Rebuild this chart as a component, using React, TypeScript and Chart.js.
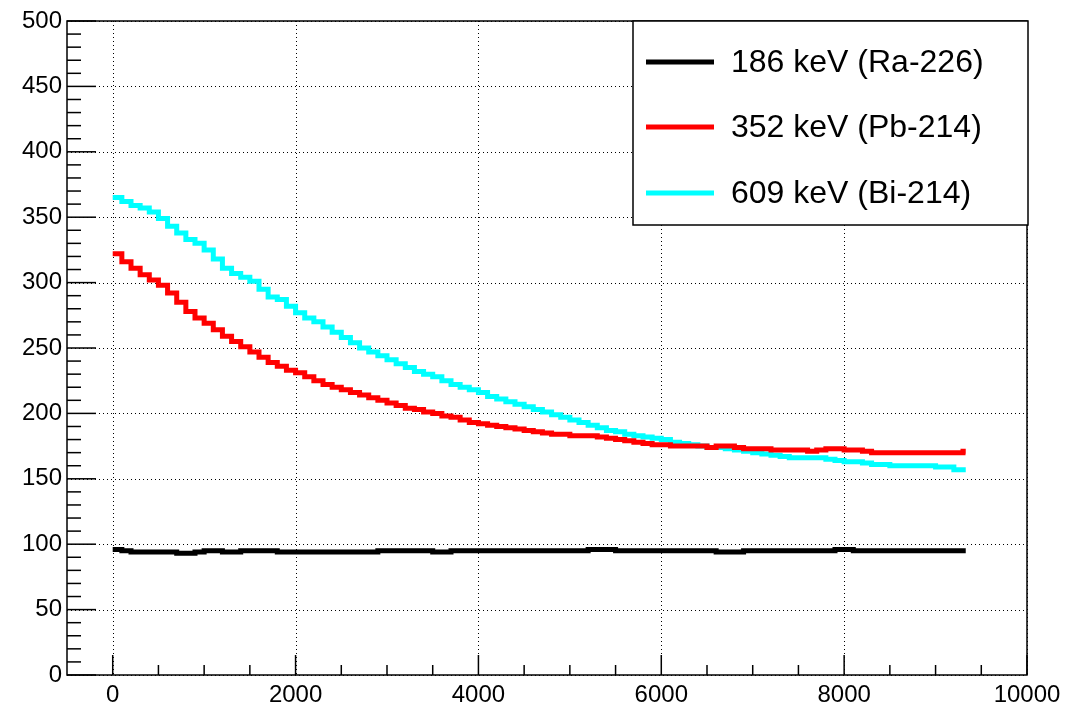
import React, { useEffect, useRef } from "react";
import { Chart, registerables } from "chart.js";

Chart.register(...registerables);

// Bin left edges (last entry closes the final bin)
const binEdges = [
  0, 100, 200, 300, 400, 500, 600, 700, 800, 900,
  1000, 1100, 1200, 1300, 1400, 1500, 1600, 1700, 1800, 1900,
  2000, 2100, 2200, 2300, 2400, 2500, 2600, 2700, 2800, 2900,
  3000, 3100, 3200, 3300, 3400, 3500, 3600, 3700, 3800, 3900,
  4000, 4100, 4200, 4300, 4400, 4500, 4600, 4700, 4800, 4900,
  5000, 5100, 5200, 5300, 5400, 5500, 5600, 5700, 5800, 5900,
  6000, 6100, 6200, 6300, 6400, 6500, 6600, 6700, 6800, 6900,
  7000, 7100, 7200, 7300, 7400, 7500, 7600, 7700, 7800, 7900,
  8000, 8100, 8200, 8300, 8400, 8500, 8600, 8700, 8800, 8900,
  9000, 9100, 9200, 9300, 9330,
];

const ra226 = [
  96, 95, 94, 94, 94, 94, 94, 93, 93, 94,
  95, 95, 94, 94, 95, 95, 95, 95, 94, 94,
  94, 94, 94, 94, 94, 94, 94, 94, 94, 95,
  95, 95, 95, 95, 95, 94, 94, 95, 95, 95,
  95, 95, 95, 95, 95, 95, 95, 95, 95, 95,
  95, 95, 96, 96, 96, 95, 95, 95, 95, 95,
  95, 95, 95, 95, 95, 95, 94, 94, 94, 95,
  95, 95, 95, 95, 95, 95, 95, 95, 95, 96,
  96, 95, 95, 95, 95, 95, 95, 95, 95, 95,
  95, 95, 95, 95, 95,
];

const pb214 = [
  322, 316, 311, 306, 302, 298, 292, 285, 278, 273,
  269, 264, 259, 255, 251, 247, 243, 239, 236, 233,
  231, 228, 225, 222, 220, 218, 216, 214, 212, 210,
  208, 206, 204, 203, 201, 200, 198, 197, 195, 193,
  192, 191, 190, 189, 188, 187, 186, 185, 184, 184,
  183, 183, 183, 182, 181, 180, 179, 178, 177, 176,
  176, 175, 175, 175, 175, 174, 175, 175, 174, 173,
  173, 173, 172, 172, 172, 172, 171, 172, 173, 173,
  172, 172, 171, 170, 170, 170, 170, 170, 170, 170,
  170, 170, 170, 171, 171,
];

const bi214 = [
  365, 362, 359, 357, 354, 349, 343, 338, 333, 330,
  325, 318, 311, 307, 304, 301, 295, 289, 287, 282,
  277, 273, 270, 266, 262, 258, 254, 250, 247, 244,
  241, 238, 235, 232, 230, 228, 225, 222, 220, 218,
  216, 213, 211, 209, 207, 205, 203, 201, 199, 197,
  195, 193, 191, 189, 187, 186, 184, 183, 182, 181,
  180, 178, 177, 176, 175, 174, 174, 173, 172, 171,
  170, 169, 168, 167, 166, 166, 166, 166, 165, 164,
  163, 163, 162, 161, 161, 160, 160, 160, 160, 160,
  159, 159, 157, 157, 157,
];

const seriesLabels = ["186 keV (Ra-226)", "352 keV (Pb-214)", "609 keV (Bi-214)"];
const seriesColors = ["#000000", "#ff0000", "#00ffff"];

const xMajorTicks = [0, 2000, 4000, 6000, 8000, 10000];
const xMinorTicks = [500, 1000, 1500, 2500, 3000, 3500, 4500, 5000, 5500, 6500, 7000, 7500, 8500, 9000, 9500];
const yMajorTicks = [0, 50, 100, 150, 200, 250, 300, 350, 400, 450, 500];
const yMinorTicks = [
  10, 20, 30, 40, 60, 70, 80, 90, 110, 120, 130, 140, 160, 170, 180, 190,
  210, 220, 230, 240, 260, 270, 280, 290, 310, 320, 330, 340, 360, 370, 380, 390,
  410, 420, 430, 440, 460, 470, 480, 490,
];

const FONT = "'Liberation Sans', Arial, Helvetica, sans-serif";

const rootStyle = {
  id: "rootStyle",
  beforeDatasetsDraw(chart: any) {
    const { ctx, chartArea, scales } = chart;
    const xs = scales.x;
    const ys = scales.y;
    ctx.save();
    ctx.strokeStyle = "#000";
    ctx.lineWidth = 1;
    ctx.setLineDash([1, 3]);
    for (const v of xMajorTicks) {
      const px = Math.round(xs.getPixelForValue(v)) + 0.5;
      ctx.beginPath();
      ctx.moveTo(px, chartArea.top);
      ctx.lineTo(px, chartArea.bottom);
      ctx.stroke();
    }
    for (const v of yMajorTicks) {
      const py = Math.round(ys.getPixelForValue(v)) + 0.5;
      ctx.beginPath();
      ctx.moveTo(chartArea.left, py);
      ctx.lineTo(chartArea.right, py);
      ctx.stroke();
    }
    ctx.restore();
  },
  afterDatasetsDraw(chart: any) {
    const { ctx, chartArea, scales } = chart;
    const xs = scales.x;
    const ys = scales.y;
    ctx.save();
    ctx.strokeStyle = "#000";
    ctx.lineWidth = 1.5;
    ctx.setLineDash([]);
    ctx.strokeRect(chartArea.left, chartArea.top, chartArea.right - chartArea.left, chartArea.bottom - chartArea.top);
    const tick = (x1: number, y1: number, x2: number, y2: number) => {
      ctx.beginPath();
      ctx.moveTo(x1, y1);
      ctx.lineTo(x2, y2);
      ctx.stroke();
    };
    for (const v of xMajorTicks) {
      const px = xs.getPixelForValue(v);
      tick(px, chartArea.bottom, px, chartArea.bottom - 20);
    }
    for (const v of xMinorTicks) {
      const px = xs.getPixelForValue(v);
      tick(px, chartArea.bottom, px, chartArea.bottom - 10);
    }
    for (const v of yMajorTicks) {
      const py = ys.getPixelForValue(v);
      tick(chartArea.left, py, chartArea.left + 29, py);
    }
    for (const v of yMinorTicks) {
      const py = ys.getPixelForValue(v);
      tick(chartArea.left, py, chartArea.left + 14, py);
    }
    ctx.restore();
  },
  afterDraw(chart: any) {
    const { ctx, chartArea } = chart;
    const boxLeft = 633;
    const boxTop = chartArea.top;
    const boxRight = chartArea.right + 1;
    const boxBottom = 225;
    ctx.save();
    ctx.fillStyle = "#fff";
    ctx.fillRect(boxLeft, boxTop, boxRight - boxLeft, boxBottom - boxTop);
    ctx.strokeStyle = "#000";
    ctx.lineWidth = 1.5;
    ctx.strokeRect(boxLeft, boxTop, boxRight - boxLeft, boxBottom - boxTop);
    const rowY = [62, 127, 193];
    ctx.font = `32px ${FONT}`;
    ctx.textBaseline = "middle";
    ctx.textAlign = "left";
    seriesLabels.forEach((label, i) => {
      ctx.strokeStyle = seriesColors[i];
      ctx.lineWidth = 5;
      ctx.beginPath();
      ctx.moveTo(646, rowY[i]);
      ctx.lineTo(714, rowY[i]);
      ctx.stroke();
      ctx.fillStyle = "#000";
      ctx.fillText(label, 731, rowY[i] + 1);
    });
    ctx.restore();
  },
};

export default function App() {
  const canvasRef = useRef<HTMLCanvasElement | null>(null);

  useEffect(() => {
    const canvas = canvasRef.current;
    if (!canvas) return;
    const mk = (vals: number[]) => binEdges.map((x, i) => ({ x, y: vals[i] }));
    const seriesValues = [ra226, pb214, bi214];
    const chart = new Chart(canvas, {
      type: "line",
      data: {
        datasets: seriesValues.map((vals, i) => ({
          label: seriesLabels[i],
          data: mk(vals),
          borderColor: seriesColors[i],
          backgroundColor: seriesColors[i],
          borderWidth: 5,
          pointRadius: 0,
          stepped: "before" as const,
          fill: false,
        })),
      },
      options: {
        animation: false,
        responsive: false,
        maintainAspectRatio: false,
        layout: { padding: { top: 21, right: 41, left: 0, bottom: 0 } },
        plugins: { legend: { display: false }, tooltip: { enabled: false } },
        scales: {
          x: {
            type: "linear",
            min: -500,
            max: 10000,
            afterBuildTicks: (scale: any) => {
              scale.ticks = xMajorTicks.map((v) => ({ value: v }));
            },
            afterFit: (scale: any) => {
              scale.height = 32;
            },
            grid: { display: false, drawTicks: false },
            border: { display: false },
            ticks: {
              color: "#000",
              padding: 6,
              maxRotation: 0,
              autoSkip: false,
              font: { family: FONT, size: 24 },
              callback: (v: any) => String(v),
            },
          },
          y: {
            type: "linear",
            min: 0,
            max: 500,
            afterBuildTicks: (scale: any) => {
              scale.ticks = yMajorTicks.map((v) => ({ value: v }));
            },
            afterFit: (scale: any) => {
              scale.width = 67;
            },
            grid: { display: false, drawTicks: false },
            border: { display: false },
            ticks: {
              color: "#000",
              padding: 5,
              font: { family: FONT, size: 24 },
              callback: (v: any) => String(v),
            },
          },
        },
      },
      plugins: [rootStyle],
    });
    return () => chart.destroy();
  }, []);

  return (
    <div style={{ position: "absolute", left: 0, top: 0, width: 1068, height: 707, background: "#fff" }}>
      <canvas ref={canvasRef} width={1068} height={707} style={{ display: "block" }} />
    </div>
  );
}
